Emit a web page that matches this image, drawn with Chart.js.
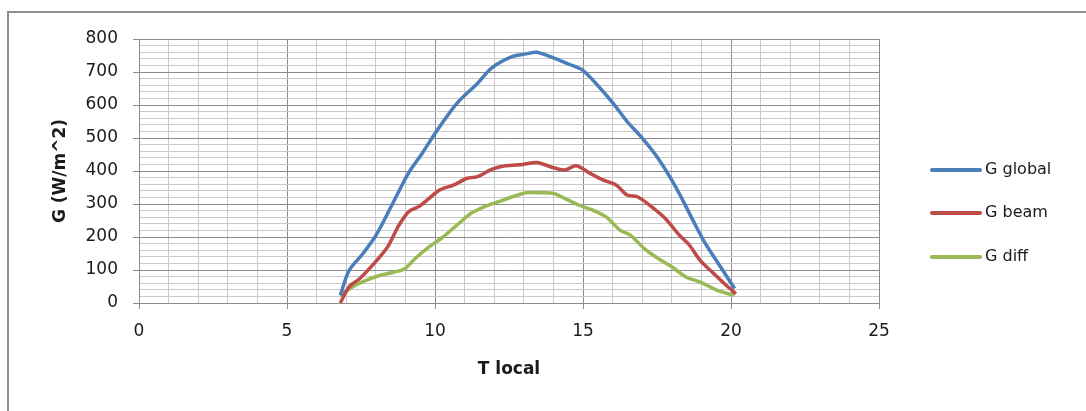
<!DOCTYPE html>
<html>
<head>
<meta charset="utf-8">
<script src="https://cdn.jsdelivr.net/npm/chart.js@4"></script>
<style>
  body { margin: 0; background: #fff; }
  #frame {
    position: absolute; left: 7px; top: 11px;
    width: 1200px; height: 500px;
    border: 2px solid #8e8e8e;
  }
  #myChart { position: absolute; left: 0; top: 0; }
</style>
</head>
<body>
<div id="frame"></div>
<canvas id="myChart" width="1086" height="411"></canvas>
<script>
// values (T local in hours, G in W/m^2)
const tGlobal = [6.8, 7.1, 7.57, 8.04, 8.63, 9.1, 9.57, 10.04, 10.74, 11.44, 11.91, 12.62, 13.09, 13.44, 14.02, 14.49, 14.96, 15.43, 16.02, 16.49, 16.96, 17.54, 18.13, 18.6, 19.07, 19.65, 20.12];
const gGlobal = [23, 99, 150, 210, 312, 393, 454, 519, 605, 666, 712, 747, 755, 760, 742, 725, 707, 666, 605, 550, 504, 438, 352, 271, 190, 109, 44];

const tBeam = [6.8, 7.1, 7.46, 8.04, 8.4, 8.75, 9.1, 9.45, 9.8, 10.15, 10.62, 11.09, 11.44, 11.91, 12.38, 12.97, 13.44, 13.9, 14.38, 14.77, 15.2, 15.67, 16.13, 16.49, 16.84, 17.31, 17.78, 18.25, 18.6, 18.95, 19.42, 19.77, 20.17];
const gBeam = [0, 49, 74, 130, 170, 231, 276, 292, 317, 342, 357, 378, 383, 405, 416, 420, 426, 413, 403, 416, 395, 373, 357, 327, 322, 292, 256, 206, 175, 130, 89, 59, 28];

const tDiff = [6.8, 7.22, 7.69, 8.16, 8.63, 8.98, 9.33, 9.8, 10.27, 10.74, 11.21, 11.68, 12.15, 12.62, 13.09, 13.56, 14.02, 14.38, 14.85, 15.31, 15.78, 16.25, 16.6, 17.07, 17.54, 18.01, 18.48, 18.95, 19.54, 20.12];
const gDiff = [23, 49, 69, 84, 94, 104, 135, 170, 200, 236, 271, 292, 307, 322, 334, 334, 332, 317, 297, 282, 261, 221, 206, 165, 135, 109, 79, 64, 38, 23];

const seriesNames = ["G global", "G beam", "G diff"];
const seriesColors = ["#4a7ebb", "#be4b48", "#98b954"];

const FONT = "'DejaVu Sans', sans-serif";

function toPoints(xs, ys) {
  return xs.map((x, i) => ({ x: x, y: ys[i] }));
}

// legend on the right, drawn by hand like the Excel one
const sideLegend = {
  id: "sideLegend",
  afterDraw(chart) {
    const ctx = chart.ctx;
    const rows = [170, 213, 257];
    ctx.save();
    ctx.font = "16px " + FONT;
    ctx.textBaseline = "middle";
    ctx.fillStyle = "#1a1a1a";
    seriesNames.forEach((name, i) => {
      ctx.strokeStyle = seriesColors[i];
      ctx.lineWidth = 4;
      ctx.lineCap = "round";
      ctx.beginPath();
      ctx.moveTo(932, rows[i]);
      ctx.lineTo(980, rows[i]);
      ctx.stroke();
      ctx.fillText(name, 985, rows[i]);
    });
    ctx.restore();
  },
};

const isMajorX = (c) => c.tick && Math.round(c.tick.value) % 5 === 0;
const isMajorY = (c) => c.tick && Math.round(c.tick.value) % 100 === 0;

const ctx1 = document.getElementById("myChart").getContext("2d");

new Chart(ctx1, {
  type: "line",
  data: {
    datasets: [
      { label: seriesNames[0], data: toPoints(tGlobal, gGlobal) },
      { label: seriesNames[1], data: toPoints(tBeam, gBeam) },
      { label: seriesNames[2], data: toPoints(tDiff, gDiff) },
    ].map((ds, i) => ({
      ...ds,
      borderColor: seriesColors[i],
      backgroundColor: seriesColors[i],
      borderWidth: 3.5,
      pointRadius: 0,
      tension: 0.3,
      fill: false,
    })),
  },
  options: {
    responsive: false,
    animation: false,
    layout: {
      padding: { left: 0, top: 39, right: 207, bottom: 0 },
    },
    plugins: {
      legend: { display: false },
      tooltip: { enabled: false },
    },
    scales: {
      x: {
        type: "linear",
        min: 0,
        max: 25,
        afterFit: (scale) => { scale.height = 108; },
        ticks: {
          stepSize: 1,
          autoSkip: false,
          maxRotation: 0,
          padding: 12,
          color: "#1a1a1a",
          font: { family: FONT, size: 17 },
          callback: (v) => (v % 5 === 0 ? v : ""),
        },
        grid: {
          color: (c) => (isMajorX(c) ? "#8c8c8c" : "#c9c9c9"),
          tickColor: (c) => (isMajorX(c) ? "#8c8c8c" : "rgba(0,0,0,0)"),
          tickLength: 6,
          lineWidth: 1,
        },
        border: { color: "#8c8c8c" },
        title: {
          display: true,
          text: "T local",
          color: "#1a1a1a",
          font: { family: FONT, size: 17, weight: "bold" },
          padding: { top: 0, bottom: 31 },
        },
      },
      y: {
        min: 0,
        max: 800,
        afterFit: (scale) => { scale.width = 139; },
        ticks: {
          stepSize: 20,
          autoSkip: false,
          padding: 15,
          color: "#1a1a1a",
          font: { family: FONT, size: 17 },
          callback: (v) => (v % 100 === 0 ? v : ""),
        },
        grid: {
          color: (c) => (isMajorY(c) ? "#8c8c8c" : "#c9c9c9"),
          tickColor: (c) => (isMajorY(c) ? "#8c8c8c" : "rgba(0,0,0,0)"),
          tickLength: 6,
          lineWidth: 1,
        },
        border: { color: "#8c8c8c" },
        title: {
          display: true,
          text: "G (W/m^2)",
          color: "#1a1a1a",
          font: { family: FONT, size: 17, weight: "bold" },
          padding: { top: 50, bottom: 0 },
        },
      },
    },
  },
  plugins: [sideLegend],
});
</script>
</body>
</html>
